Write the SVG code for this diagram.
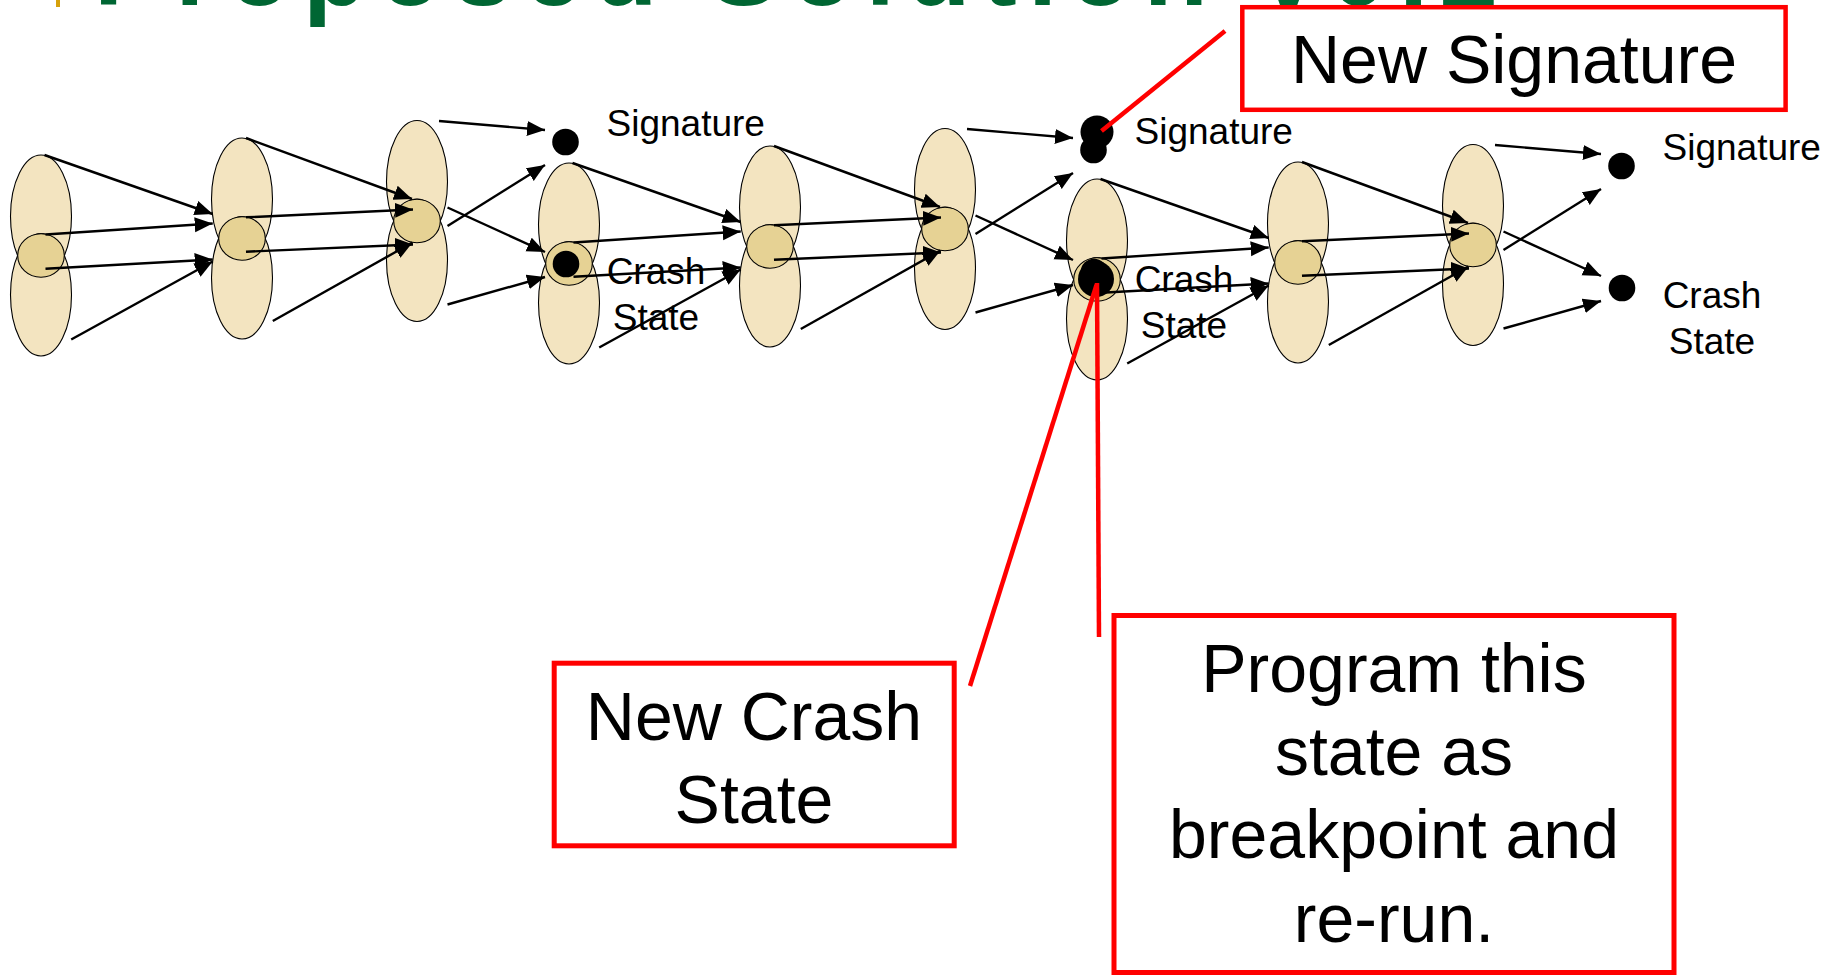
<svg xmlns="http://www.w3.org/2000/svg" width="1844" height="976" viewBox="0 0 1844 976">
<defs>
<style>
.big{fill:#F3E4C0;stroke:#000;stroke-width:1.1}
.small{fill:#E6D294;stroke:#000;stroke-width:1.1}
.dot{fill:#000}
.arr{stroke:#000;stroke-width:2.4;fill:none;marker-end:url(#ah)}
.red{stroke:#FF0000;stroke-width:4.5;fill:none}
.box{fill:#FFFFFF;stroke:#FF0000;stroke-width:5}
.lbl{font-family:"Liberation Sans",Arial,sans-serif;font-size:37px;fill:#000}
.big-t{font-family:"Liberation Sans",Arial,sans-serif;font-size:68px;fill:#000;text-anchor:middle}
.title{font-family:"Liberation Sans",Arial,sans-serif;font-size:105px;font-weight:bold;fill:#006633}
</style>
<marker id="ah" markerUnits="userSpaceOnUse" markerWidth="19" markerHeight="16" refX="18" refY="7.5" orient="auto">
<path d="M0,0 L18,7.5 L0,15 z" fill="#000"/>
</marker>
<g id="pair">
<ellipse class="big" cx="0" cy="-39.25" rx="30.5" ry="61.25"/>
<ellipse class="big" cx="0" cy="39.25" rx="30.5" ry="61.25"/>
<ellipse class="small" cx="0" cy="0" rx="23.3" ry="21.7"/>
</g>
</defs>
<rect width="1844" height="976" fill="#FFFFFF"/>

<g id="title">
<rect x="56" y="0" width="4" height="7" fill="#D6A10B"/>
<text class="title" x="94" y="4.5" textLength="1404" lengthAdjust="spacing">Proposed Solution v0.2</text>
</g>

<g id="state-g1" transform="translate(41,255.5)"><use href="#pair"/></g>
<g id="state-g2" transform="translate(242,238.5)"><use href="#pair"/></g>
<g id="state-g3" transform="translate(417,221)"><use href="#pair"/></g>
<g id="state-g4" transform="translate(569,263.5)"><use href="#pair"/></g>
<g id="state-g5" transform="translate(770,246.5)"><use href="#pair"/></g>
<g id="state-g6" transform="translate(945,229)"><use href="#pair"/></g>
<g id="state-g7" transform="translate(1097,279.5)"><use href="#pair"/></g>
<g id="state-g8" transform="translate(1298,262.5)"><use href="#pair"/></g>
<g id="state-g9" transform="translate(1473,245)"><use href="#pair"/></g>

<g id="sig-dot-1"><circle class="dot" cx="565.5" cy="142" r="13.3"/></g>
<g id="crash-dot-1"><circle class="dot" cx="566" cy="264" r="13.3"/></g>
<g id="sig-dot-2"><circle class="dot" cx="1093.5" cy="150" r="13.3"/><circle class="dot" cx="1097" cy="132" r="16.5"/></g>
<g id="crash-dot-2"><circle class="dot" cx="1094" cy="272" r="13.3"/><circle class="dot" cx="1096" cy="279" r="18"/></g>
<g id="sig-dot-3"><circle class="dot" cx="1621.5" cy="166" r="13.3"/></g>
<g id="crash-dot-3"><circle class="dot" cx="1622" cy="288" r="13.3"/></g>

<g id="connectors">
<g id="unit1-arrows">
<line class="arr" x1="44.5" y1="155" x2="212.7" y2="214"/>
<line class="arr" x1="45.5" y1="234.5" x2="212.7" y2="223.5"/>
<line class="arr" x1="45.5" y1="268.7" x2="212.7" y2="259.5"/>
<line class="arr" x1="71.2" y1="339.5" x2="212.7" y2="261.5"/>
<line class="arr" x1="246" y1="138" x2="412" y2="199"/>
<line class="arr" x1="246" y1="217.3" x2="413" y2="209.5"/>
<line class="arr" x1="246" y1="251.7" x2="413" y2="244.5"/>
<line class="arr" x1="272.8" y1="321" x2="412.5" y2="242.5"/>
<line class="arr" x1="439" y1="121" x2="545" y2="130"/>
<line class="arr" x1="447.5" y1="226" x2="545" y2="165"/>
<line class="arr" x1="447.5" y1="207.5" x2="545" y2="252"/>
<line class="arr" x1="447.5" y1="304.5" x2="545" y2="277"/>
</g>
<g id="unit2-arrows" transform="translate(528,8)">
<line class="arr" x1="44.5" y1="155" x2="212.7" y2="214"/>
<line class="arr" x1="45.5" y1="234.5" x2="212.7" y2="223.5"/>
<line class="arr" x1="45.5" y1="268.7" x2="212.7" y2="259.5"/>
<line class="arr" x1="71.2" y1="339.5" x2="212.7" y2="261.5"/>
<line class="arr" x1="246" y1="138" x2="412" y2="199"/>
<line class="arr" x1="246" y1="217.3" x2="413" y2="209.5"/>
<line class="arr" x1="246" y1="251.7" x2="413" y2="244.5"/>
<line class="arr" x1="272.8" y1="321" x2="412.5" y2="242.5"/>
<line class="arr" x1="439" y1="121" x2="545" y2="130"/>
<line class="arr" x1="447.5" y1="226" x2="545" y2="165"/>
<line class="arr" x1="447.5" y1="207.5" x2="545" y2="252"/>
<line class="arr" x1="447.5" y1="304.5" x2="545" y2="277"/>
</g>
<g id="unit3-arrows" transform="translate(1056,24)">
<line class="arr" x1="44.5" y1="155" x2="212.7" y2="214"/>
<line class="arr" x1="45.5" y1="234.5" x2="212.7" y2="223.5"/>
<line class="arr" x1="45.5" y1="268.7" x2="212.7" y2="259.5"/>
<line class="arr" x1="71.2" y1="339.5" x2="212.7" y2="261.5"/>
<line class="arr" x1="246" y1="138" x2="412" y2="199"/>
<line class="arr" x1="246" y1="217.3" x2="413" y2="209.5"/>
<line class="arr" x1="246" y1="251.7" x2="413" y2="244.5"/>
<line class="arr" x1="272.8" y1="321" x2="412.5" y2="242.5"/>
<line class="arr" x1="439" y1="121" x2="545" y2="130"/>
<line class="arr" x1="447.5" y1="226" x2="545" y2="165"/>
<line class="arr" x1="447.5" y1="207.5" x2="545" y2="252"/>
<line class="arr" x1="447.5" y1="304.5" x2="545" y2="277"/>
</g>
<g id="callout-lines">
<line class="red" x1="1225" y1="31" x2="1101.5" y2="131"/>
<line class="red" x1="970" y1="686" x2="1096.5" y2="285"/>
<line class="red" x1="1097" y1="283" x2="1099" y2="637"/>
</g>
</g>

<g id="labels-1">
<text class="lbl" x="606.5" y="136">Signature</text>
<text class="lbl" x="656" y="283.5" text-anchor="middle">Crash</text>
<text class="lbl" x="656" y="329.7" text-anchor="middle">State</text>
</g>
<g id="labels-2" transform="translate(528,8)">
<text class="lbl" x="606.5" y="136">Signature</text>
<text class="lbl" x="656" y="283.5" text-anchor="middle">Crash</text>
<text class="lbl" x="656" y="329.7" text-anchor="middle">State</text>
</g>
<g id="labels-3" transform="translate(1056,24)">
<text class="lbl" x="606.5" y="136">Signature</text>
<text class="lbl" x="656" y="283.5" text-anchor="middle">Crash</text>
<text class="lbl" x="656" y="329.7" text-anchor="middle">State</text>
</g>

<g id="box-new-signature">
<rect class="box" x="1242.3" y="7.2" width="543.3" height="102.6" style="stroke-width:4.5"/>
<text class="big-t" x="1514" y="83.3">New Signature</text>
</g>
<g id="box-new-crash-state">
<rect class="box" x="554.2" y="663.2" width="400" height="182.6"/>
<text class="big-t" x="754" y="740">New Crash</text>
<text class="big-t" x="754" y="822.7">State</text>
</g>
<g id="box-program">
<rect class="box" x="1114" y="615.5" width="560" height="357"/>
<text class="big-t" x="1394" y="691.7">Program this</text>
<text class="big-t" x="1394" y="775">state as</text>
<text class="big-t" x="1394" y="858.3">breakpoint and</text>
<text class="big-t" x="1394" y="941.7">re-run.</text>
</g>
</svg>
